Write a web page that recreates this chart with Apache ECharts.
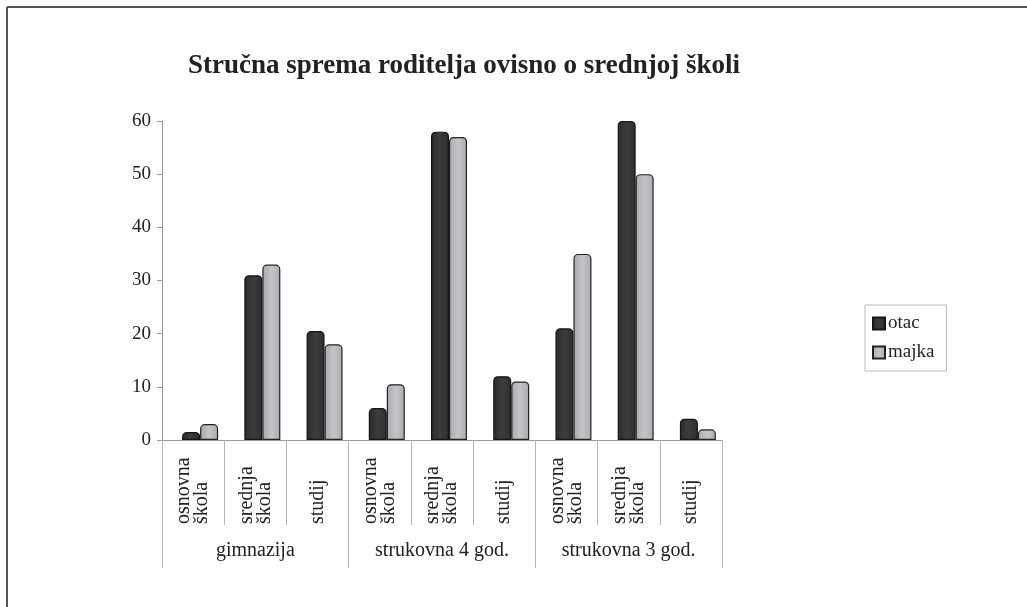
<!DOCTYPE html>
<html>
<head>
<meta charset="utf-8">
<script src="https://cdn.jsdelivr.net/npm/echarts@6/dist/echarts.min.js"></script>
<style>
  html, body { margin: 0; padding: 0; background: #fff; }
  #chart { width: 1027px; height: 607px; }
</style>
</head>
<body>
<div id="chart"></div>
<script>
const levels = ['osnovna\nškola', 'srednja\nškola', 'studij', 'osnovna\nškola', 'srednja\nškola', 'studij', 'osnovna\nškola', 'srednja\nškola', 'studij'];
const schools = ['gimnazija', 'strukovna 4 god.', 'strukovna 3 god.'];
const otac = [1.5, 31, 20.5, 6, 58, 12, 21, 60, 4];
const majka = [3, 33, 18, 10.5, 57, 11, 35, 50, 2];
const yTicks = [0, 10, 20, 30, 40, 50, 60];

const font = '"Liberation Serif", "DejaVu Serif", serif';
const axisGray = '#9a9a9a';

const chart = echarts.init(document.getElementById('chart'), null, { renderer: 'canvas' });

const darkFill = new echarts.graphic.LinearGradient(0, 0, 1, 0, [
  { offset: 0, color: '#2b2b2b' },
  { offset: 0.5, color: '#3c3c3c' },
  { offset: 1, color: '#2e2e2e' }
]);
const lightFill = new echarts.graphic.LinearGradient(0, 0, 1, 0, [
  { offset: 0, color: '#a7a9ac' },
  { offset: 0.5, color: '#c3c5c8' },
  { offset: 1, color: '#a9abae' }
]);

chart.setOption({
  backgroundColor: '#fff',
  animation: false,
  textStyle: { fontFamily: font },
  graphic: [
    { type: 'line', shape: { x1: 7, y1: 7, x2: 1027, y2: 7 }, style: { stroke: '#555', lineWidth: 2 } },
    { type: 'line', shape: { x1: 7, y1: 7, x2: 7, y2: 607 }, style: { stroke: '#555', lineWidth: 2 } }
  ],
  title: {
    text: 'Stručna sprema roditelja ovisno o srednjoj školi',
    left: 183,
    top: 48,
    textStyle: { fontFamily: font, fontSize: 27, fontWeight: 'bold', color: '#222' }
  },
  legend: {
    orient: 'vertical',
    left: 865,
    top: 305,
    padding: [9, 12, 9, 7],
    itemGap: 10,
    itemWidth: 12,
    itemHeight: 12,
    icon: 'rect',
    borderColor: '#bbb',
    borderWidth: 1,
    textStyle: { fontFamily: font, fontSize: 19, color: '#222', padding: [0, 0, 0, -2] },
    data: ['otac', 'majka']
  },
  grid: { left: 162, right: 305, top: 121, bottom: 167 },
  xAxis: [
    {
      type: 'category',
      data: levels,
      axisLine: { lineStyle: { color: axisGray, width: 1 } },
      axisTick: { show: true, length: 85, lineStyle: { color: '#b5b5b5' } },
      axisLabel: {
        interval: 0,
        rotate: 90,
        align: 'left',
        verticalAlign: 'middle',
        margin: 84,
        fontFamily: font,
        fontSize: 20,
        lineHeight: 18,
        color: '#222'
      }
    },
    {
      type: 'category',
      position: 'bottom',
      data: schools,
      axisLine: { show: false },
      axisTick: { show: true, length: 128, lineStyle: { color: '#b5b5b5' } },
      axisLabel: { interval: 0, margin: 101, fontFamily: font, fontSize: 20, color: '#222' }
    }
  ],
  yAxis: {
    type: 'value',
    min: 0,
    max: 60,
    interval: 10,
    axisLine: { show: true, lineStyle: { color: axisGray } },
    axisTick: { show: true, length: 5, lineStyle: { color: axisGray } },
    splitLine: { show: false },
    axisLabel: {
      fontFamily: font,
      fontSize: 19,
      color: '#222',
      margin: 11,
      formatter: (v) => (yTicks.includes(v) ? String(v) : '')
    }
  },
  series: [
    {
      // empty spacer that pushes the bar pair a little to the right, like the 3D original
      name: 'spacer',
      type: 'bar',
      xAxisIndex: 0,
      data: levels.map(() => null),
      barWidth: 14,
      barGap: '0%',
      silent: true
    },
    {
      name: 'otac',
      type: 'bar',
      xAxisIndex: 0,
      data: otac,
      barWidth: 18,
      barGap: '0%',
      itemStyle: { color: darkFill, borderColor: '#151515', borderWidth: 1.2, borderRadius: [4, 4, 0, 0] }
    },
    {
      name: 'majka',
      type: 'bar',
      xAxisIndex: 0,
      data: majka,
      barWidth: 18,
      barGap: '0%',
      itemStyle: { color: lightFill, borderColor: '#222', borderWidth: 1.2, borderRadius: [4, 4, 0, 0] }
    }
  ]
});
</script>
</body>
</html>
